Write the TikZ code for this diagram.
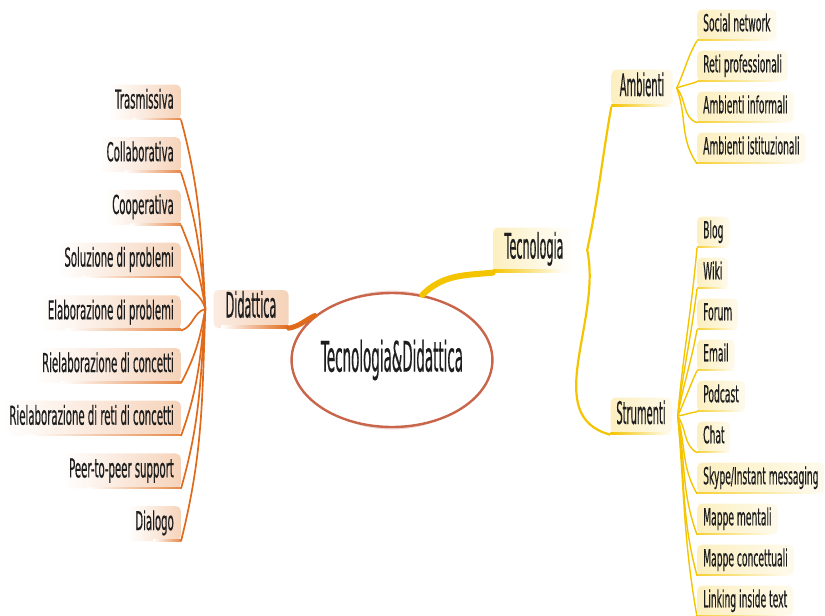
\documentclass[tikz,border=0pt]{standalone}
\usepackage{fontspec}
\setmainfont{DejaVu Sans}
\newfontfamily\leaffont{DejaVu Sans}[FakeStretch=0.39,FakeBold=0.4]
\newfontfamily\topicfont{DejaVu Sans}[FakeStretch=0.32,FakeBold=0.4]
\usetikzlibrary{positioning}
\usetikzlibrary{shapes.geometric}

\definecolor{didorange}{HTML}{E06A1B}
\definecolor{didpeach}{HTML}{F6D3BA}
\definecolor{tecyellow}{HTML}{F5C400}
\definecolor{teccream}{HTML}{FCEFC0}
\definecolor{ringred}{HTML}{C8654A}
\definecolor{inkgray}{HTML}{1E1E1E}

\tikzset{
 didleaf/.style={anchor=east,rounded corners=5pt,left color=white,right color=didpeach,
   inner xsep=7pt,minimum height=35pt,text height=18pt,text depth=5pt,text=inkgray,
   font={\leaffont\fontsize{26}{30}\selectfont}},
 tecleaf/.style={anchor=west,rounded corners=5pt,left color=teccream,right color=teccream!30,
   inner xsep=6pt,minimum height=31pt,text height=17pt,text depth=4.5pt,text=inkgray,
   font={\leaffont\fontsize{23.5}{27}\selectfont}},
 didtopic/.style={rounded corners=5pt,left color=didpeach!45,right color=didpeach,
   minimum width=75pt,minimum height=38pt,text height=24pt,text depth=7pt,text=inkgray,
   font={\topicfont\fontsize{35}{39}\selectfont}},
 tectopic/.style={rounded corners=5pt,left color=teccream,right color=white,
   minimum width=82pt,minimum height=45pt,text height=24pt,text depth=7pt,text=inkgray,
   font={\topicfont\fontsize{35}{39}\selectfont}},
 subtopic/.style={rounded corners=5pt,left color=teccream,right color=teccream!35,
   minimum width=61pt,minimum height=37pt,text height=22pt,text depth=6pt,text=inkgray,
   font={\topicfont\fontsize{31}{35}\selectfont}},
 central/.style={ellipse,draw=ringred,line width=2.4pt,fill=white,inner sep=0pt,
   minimum width=180pt,minimum height=134pt,text=inkgray,
   font={\topicfont\fontsize{42}{46}\selectfont}},
 didconn/.style={didorange,line width=1.7pt},
 tecconn/.style={tecyellow,line width=1.4pt},
 didthick/.style={didorange,line width=5pt,line cap=round},
 tecthick/.style={tecyellow,line width=6pt,line cap=round},
}

\begin{document}
\begin{tikzpicture}[x=1pt,y=1pt]
 \useasboundingbox (0,0) rectangle (825,-616);

 % centre and main topics
 \draw[ringred!25,line width=5pt] (392,-360) ellipse (90 and 67);
 \node[central] (centre) at (392,-360) {Tecnologia\&Didattica};
 \node[didtopic] (didattica) at (251,-309) {Didattica};
 \node[tectopic] (tecnologia) at (534,-250) {Tecnologia};
 \node[subtopic] (ambienti) at (642,-88) {Ambienti};
 \node[subtopic] (strumenti) at (641,-416) {Strumenti};

 \coordinate (didhub) at ([xshift=-8pt]didattica.west);
 \coordinate (techub) at ([xshift=12pt]tecnologia.east);
 \coordinate (ambhub) at ([xshift=4pt]ambienti.east);
 \coordinate (strhub) at ([xshift=6pt]strumenti.east);

 % Didattica branch
 \foreach \txt [count=\i from 0] in {Trasmissiva,Collaborativa,Cooperativa,Soluzione di problemi,
   Elaborazione di problemi,Rielaborazione di concetti,Rielaborazione di reti di concetti,
   Peer-to-peer support,Dialogo}
  \node[didleaf] (d\i) at (181,{-102-52.7*\i}) {\txt};
 \foreach \i/\o/\n in {0/93/-75,1/95/-72,2/98/-68,3/105/-55,4/195/15,5/-100/62,6/-96/70,7/-94/74,8/-92/76}{
  \shade[left color=white,right color=didorange!80] ([xshift=25pt]d\i.south west) rectangle ([yshift=1.6pt]d\i.south east);
  \draw[didconn] (didhub) to[out=\o,in=\n] (d\i.south east);
 }
 \shade[left color=white,right color=didorange] ([xshift=8pt]didattica.south west) rectangle ([yshift=2.5pt]didattica.south east);
 \draw[didthick] (centre.150) to[out=205,in=10] (didattica.south east);

 % Tecnologia branch
 \shade[left color=tecyellow,right color=white] (tecnologia.south west) rectangle ([yshift=3pt,xshift=-10pt]tecnologia.south east);
 \draw[tecthick] (centre.65) to[out=45,in=185] (tecnologia.south west);
 \draw[tecconn,line width=2.2pt] (techub) to[out=78,in=-100] (ambienti.south west);
 \draw[tecconn,line width=2.2pt] (techub) to[out=-78,in=165] (strumenti.south west);
 \shade[left color=tecyellow,right color=white] (ambienti.south west) rectangle ([yshift=2pt]ambienti.south east);
 \shade[left color=tecyellow,right color=white] (strumenti.south west) rectangle ([yshift=2pt]strumenti.south east);

 \foreach \txt [count=\i from 0] in {Social network,Reti professionali,Ambienti informali,Ambienti istituzionali}
  \node[tecleaf] (a\i) at (697,{-25-41*\i}) {\txt};
 \foreach \i/\o/\n in {0/65/-120,1/20/200,2/-50/160,3/-70/125}{
  \shade[left color=tecyellow!80,right color=white] (a\i.south west) rectangle ([yshift=1.4pt]a\i.south east);
  \draw[tecconn] (ambhub) to[out=\o,in=\n] (a\i.south west);
 }

 \foreach \txt [count=\i from 0] in {Blog,Wiki,Forum,Email,Podcast,Chat,Skype/Instant messaging,
   Mappe mentali,Mappe concettuali,Linking inside text}
  \node[tecleaf] (s\i) at (697,{-232-41*\i}) {\txt};
 \foreach \i/\o/\n in {0/85/-95,1/83/-97,2/80/-100,3/65/-115,4/10/190,5/-55/150,6/-75/120,7/-80/110,8/-83/105,9/-85/100}{
  \shade[left color=tecyellow!80,right color=white] (s\i.south west) rectangle ([yshift=1.4pt]s\i.south east);
  \draw[tecconn] (strhub) to[out=\o,in=\n] (s\i.south west);
 }
\end{tikzpicture}
\end{document}
